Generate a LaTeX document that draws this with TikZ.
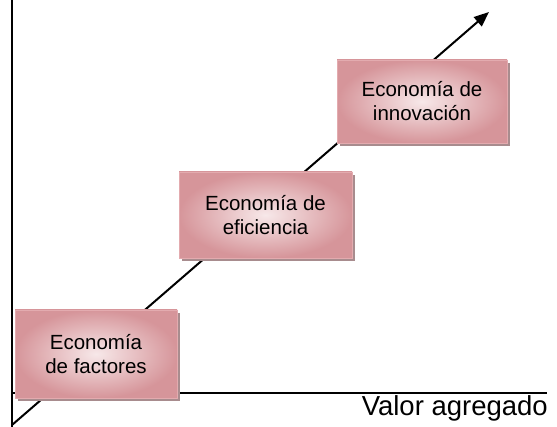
\documentclass[tikz,border=0pt]{standalone}
\usepackage{fontspec}
\setmainfont{Liberation Sans}
\usetikzlibrary{arrows.meta,shadows}
\definecolor{pinkD}{HTML}{D6959A}
\definecolor{pinkL}{HTML}{F7E8E9}
\definecolor{pinkB}{HTML}{E3ABAF}
\definecolor{shadowc}{HTML}{A88C8E}
\tikzset{
  stage/.style={rectangle, draw=pinkB, line width=0.8pt, inner color=pinkL, outer color=pinkD,
    align=center, font=\fontsize{20.5}{24}\selectfont, text=black, inner sep=0pt,
    drop shadow={shadow xshift=3pt, shadow yshift=-3pt, fill=shadowc, opacity=1}},
  axis/.style={line width=1.4pt, black},
  trend/.style={line width=2pt, black, -{Triangle[length=15pt,width=12pt]}}
}
\begin{document}
\begin{tikzpicture}[x=1pt,y=-1pt]
\useasboundingbox (0,0) rectangle (557,427);
\coordinate (ytop) at (12,0);
\coordinate (ybot) at (12,427);
\coordinate (xl) at (12,393);
\coordinate (xr) at (547,393);
\coordinate (o) at (12,425);
\coordinate (tip) at (489,12);
\draw[axis] (ytop) -- (ybot);
\draw[axis] (xl) -- (xr);
\draw[trend] (o) -- (tip);
\node[stage, minimum width=162pt, minimum height=88pt] (f) at (96,354) {Economía\\de factores};
\node[stage, minimum width=173pt, minimum height=86pt] (e) at (265.5,215) {Economía de\\eficiencia};
\node[stage, minimum width=170pt, minimum height=83pt] (i) at (422,101.5) {Economía de\\innovación};
\node[anchor=base east, font=\fontsize{27.5}{30}\selectfont, inner sep=0pt] (v) at (548,416) {Valor agregado};
\end{tikzpicture}
\end{document}
